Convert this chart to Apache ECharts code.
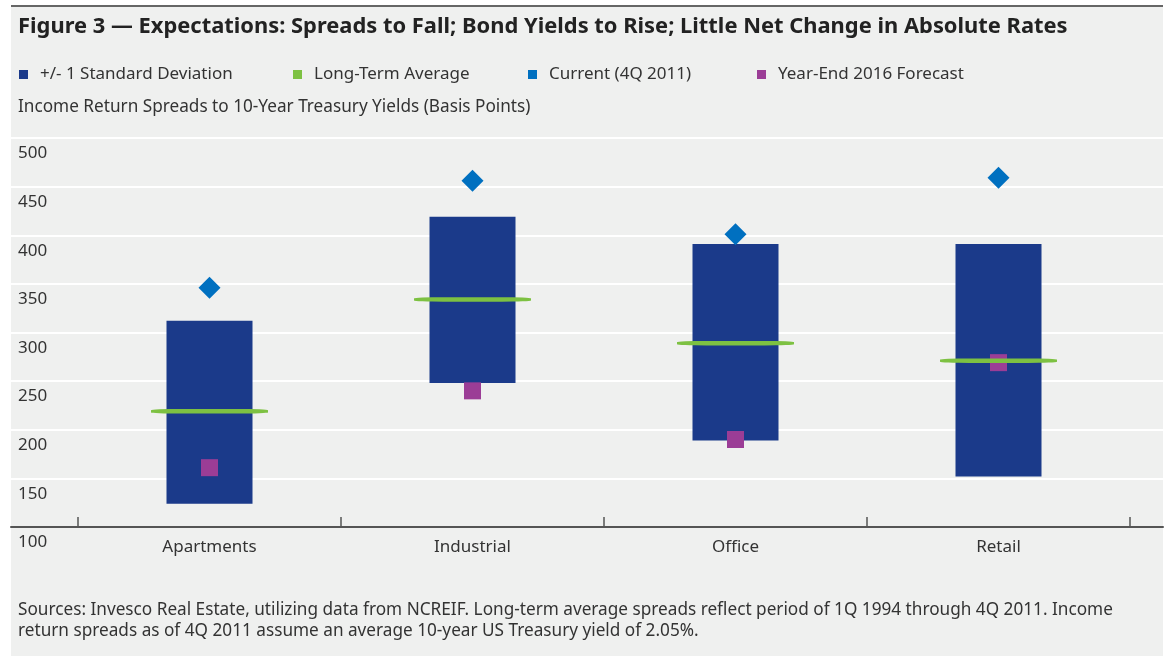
<!DOCTYPE html>
<html>
<head>
<meta charset="utf-8">
<script src="https://cdn.jsdelivr.net/npm/echarts@6/dist/echarts.min.js"></script>
<style>html,body{margin:0;padding:0;background:#fff}#c{width:1168px;height:656px}</style>
</head>
<body>
<div id="c"></div>
<script>
const categories = ['Apartments', 'Industrial', 'Office', 'Retail'];
const sdLow = [124, 248, 189, 152];
const sdHigh = [312, 419, 391, 391];
const longTermAvg = [219, 334, 289, 271];
const current4Q2011 = [346, 456, 401, 459];
const forecast2016 = [161, 240, 190, 269];
const yTicks = [100, 150, 200, 250, 300, 350, 400, 450, 500];

const FONT = '"Noto Sans", "DejaVu Sans", sans-serif';
const chart = echarts.init(document.getElementById('c'), null, {renderer: 'canvas'});

const sdRange = sdHigh.map((h, i) => h - sdLow[i]);

function legendAt(name, left, color) {
  return {
    left: left, top: 61, icon: 'rect', itemWidth: 9, itemHeight: 9,
    data: [{name: name, itemStyle: {color: color}}],
    selectedMode: false,
    textStyle: {fontFamily: FONT, fontSize: 17, color: '#333', padding: [0, 0, 0, 7]}
  };
}

const option = {
  backgroundColor: '#ffffff',
  animation: false,
  textStyle: {fontFamily: FONT},
  graphic: [
    {type: 'rect', z: -10, shape: {x: 11, y: 6, width: 1152, height: 650}, style: {fill: '#eff0ef'}},
    {type: 'rect', z: -9, shape: {x: 11, y: 5, width: 1152, height: 2}, style: {fill: '#666666'}},
    {type: 'text', left: 18, top: 16, style: {
      text: 'Figure 3 \u2014 Expectations: Spreads to Fall; Bond Yields to Rise; Little Net Change in Absolute Rates',
      font: 'bold 21.9px ' + FONT, fill: '#222'}},
    {type: 'text', left: 18, top: 99, style: {
      text: 'Income Return Spreads to 10-Year Treasury Yields (Basis Points)',
      font: '17.2px ' + FONT, fill: '#333'}},
    {type: 'text', left: 18, top: 600, style: {
      text: 'Sources: Invesco Real Estate, utilizing data from NCREIF. Long-term average spreads reflect period of 1Q 1994 through 4Q 2011. Income\nreturn spreads as of 4Q 2011 assume an average 10-year US Treasury yield of 2.05%.',
      font: '17.2px ' + FONT, fill: '#333', lineHeight: 21}}
  ],
  legend: [
    legendAt('+/- 1 Standard Deviation', 14, '#1b3a8a'),
    legendAt('Long-Term Average', 288, '#7dc142'),
    legendAt('Current (4Q 2011)', 523, '#0070c0'),
    legendAt('Year-End 2016 Forecast', 752, '#9b3d96')
  ],
  grid: [
    {left: 78, right: 38, top: 138, bottom: 129},
    {left: 11, right: 5, top: 138, bottom: 129}
  ],
  xAxis: [
    {type: 'category', gridIndex: 0, data: categories, boundaryGap: true,
     axisLine: {show: false},
     axisTick: {show: true, inside: true, length: 10, lineStyle: {color: '#555', width: 1.5}},
     axisLabel: {color: '#333', fontSize: 17, fontFamily: FONT, margin: 12},
     splitLine: {show: false}},
    {type: 'value', gridIndex: 1, min: 0, max: 1, show: true,
     axisLine: {show: true, onZero: false, lineStyle: {color: '#555', width: 2}},
     axisTick: {show: false}, axisLabel: {show: false}, splitLine: {show: false}}
  ],
  yAxis: [
    {type: 'value', gridIndex: 0, min: 100, max: 500, interval: 50, show: false},
    {type: 'value', gridIndex: 1, min: 100, max: 500, interval: 50,
     axisLine: {show: false}, axisTick: {show: false},
     splitLine: {show: true, lineStyle: {color: '#ffffff', width: 2}},
     axisLabel: {inside: true, margin: 7, verticalAlign: 'top', padding: [7, 0, 0, 0],
       color: '#333', fontSize: 17, fontFamily: FONT,
       formatter: v => yTicks.includes(v) ? String(v) : ''}}
  ],
  series: [
    {name: 'base', type: 'bar', stack: 'sd', xAxisIndex: 0, yAxisIndex: 0, barWidth: 86,
     itemStyle: {color: 'rgba(0,0,0,0)'}, data: sdLow, silent: true, z: 2},
    {name: '+/- 1 Standard Deviation', type: 'bar', stack: 'sd', xAxisIndex: 0, yAxisIndex: 0, barWidth: 86,
     itemStyle: {color: '#1b3a8a'}, data: sdRange, z: 2},
    {name: 'Year-End 2016 Forecast', type: 'scatter', xAxisIndex: 0, yAxisIndex: 0,
     symbol: 'rect', symbolSize: 17, itemStyle: {color: '#9b3d96', opacity: 1}, data: forecast2016, z: 3},
    {name: 'Long-Term Average', type: 'scatter', xAxisIndex: 0, yAxisIndex: 0,
     symbol: 'roundRect', symbolSize: [117, 4.5], itemStyle: {color: '#7dc142', opacity: 1}, data: longTermAvg, z: 4},
    {name: 'Current (4Q 2011)', type: 'scatter', xAxisIndex: 0, yAxisIndex: 0,
     symbol: 'diamond', symbolSize: 22, itemStyle: {color: '#0070c0', opacity: 1}, data: current4Q2011, z: 5}
  ]
};
chart.setOption(option);
</script>
</body>
</html>
